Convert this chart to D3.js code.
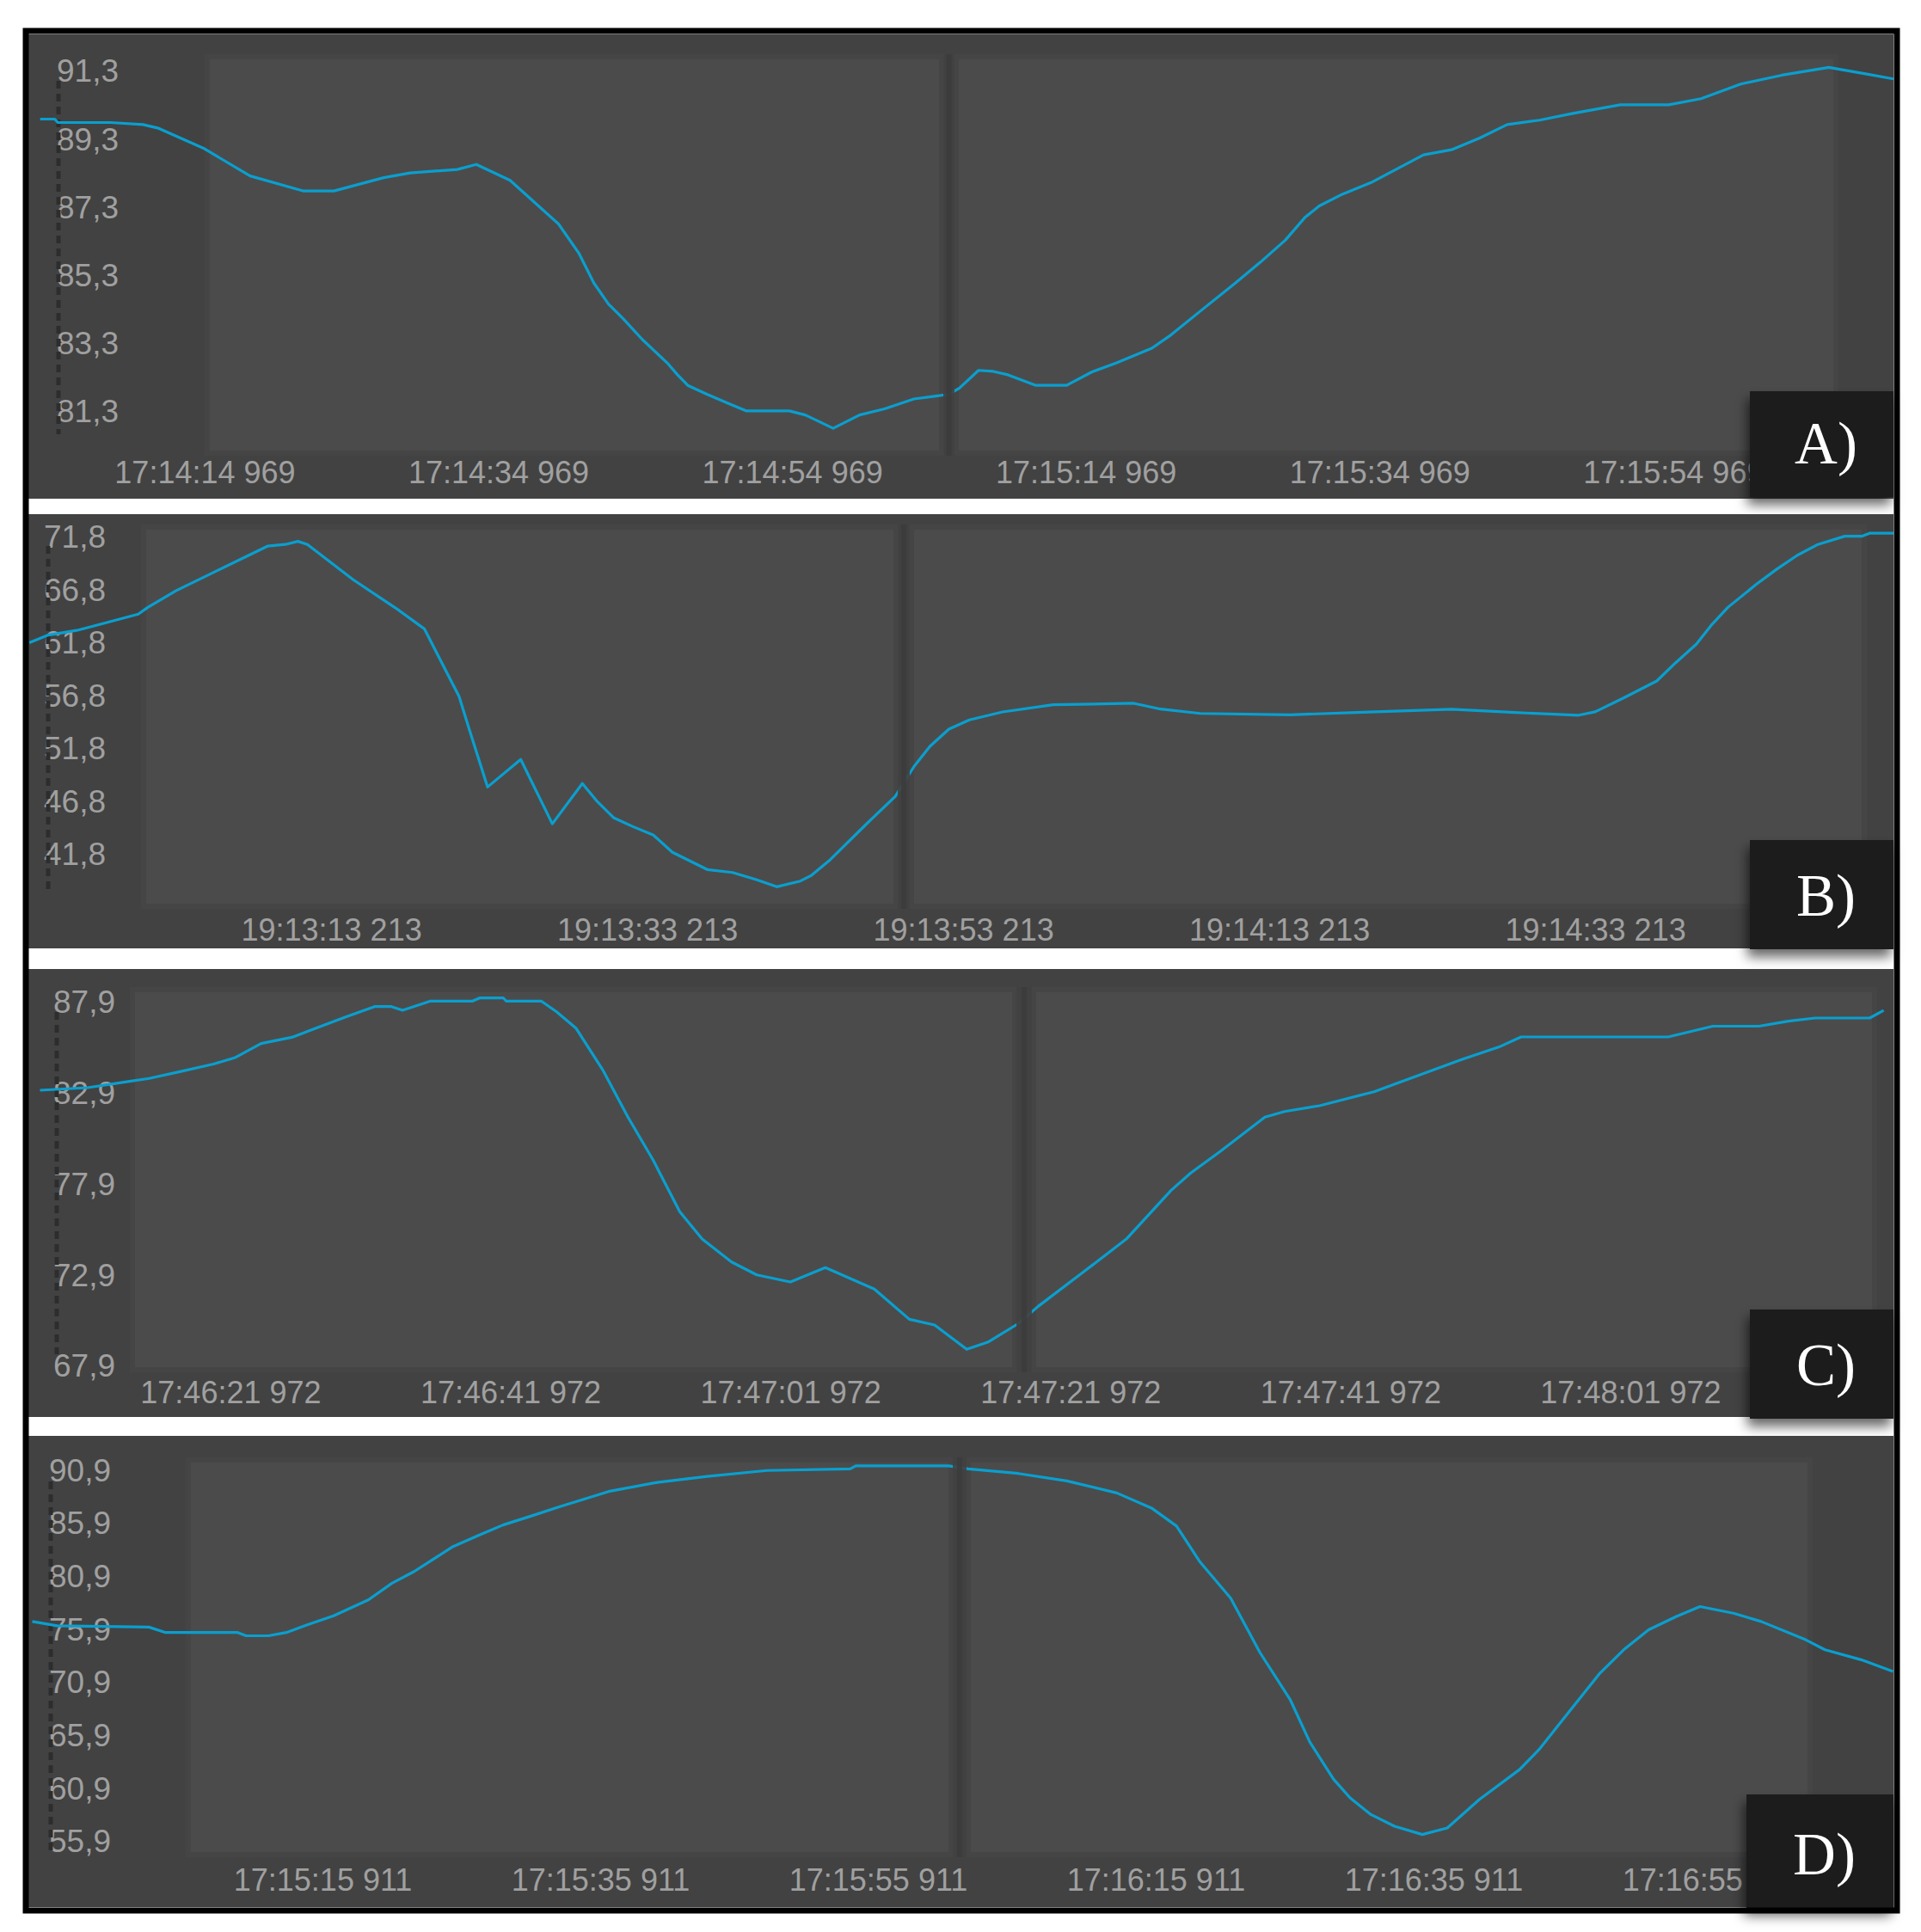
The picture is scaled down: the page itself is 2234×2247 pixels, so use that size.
<!DOCTYPE html>
<html>
<head>
<meta charset="utf-8">
<script src="https://cdn.jsdelivr.net/npm/d3@7"></script>
<style>
  body { margin: 0; background: #fff; }
  svg { display: block; }
  .axis text { font-family: "Liberation Sans", Arial, sans-serif; font-size: 36px; fill: #a0a0a0; }
  .axis.val text { font-size: 37px; }
  .tag { font-family: "Liberation Serif", "Times New Roman", serif; font-size: 69px; fill: #fff; }
</style>
</head>
<body>
<div id="chart"></div>
<script>
// A) 17:14:14.969
const aStart = "17:14:14.969";
const aSec = [-11.2, -10.2, -10.0, -6.4, -4.2, -3.2, -0.1, 3.1, 6.7, 8.8, 12.2, 14.0, 17.2, 18.5, 20.8, 24.1, 25.5, 26.5, 27.5, 28.5, 29.8, 31.5, 32.2, 32.9, 34.2, 35.6, 36.9, 39.8, 40.9, 42.8, 44.6, 46.3, 48.3, 49.7, 50.7, 51.4, 52.7, 53.7, 54.7, 56.6, 58.7, 60.4, 62.1, 64.5, 65.8, 67.8, 70.2, 71.9, 73.6, 74.9, 75.9, 77.5, 79.4, 83.0, 84.9, 86.8, 88.7, 90.9, 93.1, 96.4, 99.7, 101.9, 104.6, 107.4, 110.6, 111.5, 113.1, 115.0];
const aVal = [89.86, 89.86, 89.76, 89.76, 89.70, 89.60, 89.01, 88.19, 87.75, 87.75, 88.14, 88.28, 88.38, 88.53, 88.06, 86.78, 85.91, 85.05, 84.43, 84.00, 83.39, 82.70, 82.35, 82.04, 81.78, 81.52, 81.29, 81.29, 81.17, 80.78, 81.17, 81.35, 81.64, 81.72, 81.78, 81.96, 82.48, 82.45, 82.35, 82.04, 82.04, 82.43, 82.70, 83.13, 83.52, 84.22, 85.05, 85.66, 86.31, 86.96, 87.31, 87.66, 87.99, 88.81, 88.96, 89.30, 89.70, 89.83, 90.02, 90.28, 90.28, 90.46, 90.89, 91.15, 91.38, 91.31, 91.19, 91.04];
const aValTicks = [91.3, 89.3, 87.3, 85.3, 83.3, 81.3];
const aTimeTicks = [0, 20, 40, 60, 80, 100];

// B) 19:13:13.213
const bStart = "19:13:13.213";
const bSec = [-19.1, -17.9, -16.1, -14.6, -12.2, -11.6, -9.8, -7.4, -5.4, -4.0, -2.9, -2.1, -1.5, 1.4, 4.3, 5.9, 7.0, 8.1, 8.7, 9.9, 12.0, 14.0, 15.9, 16.8, 17.9, 19.1, 20.4, 21.6, 23.8, 25.4, 26.9, 28.2, 29.7, 30.4, 31.6, 33.8, 35.7, 36.9, 37.9, 39.1, 40.4, 42.5, 45.7, 50.8, 52.5, 55.0, 60.7, 64.9, 70.9, 74.9, 78.9, 80.0, 81.8, 83.9, 85.1, 86.4, 87.4, 88.4, 90.2, 91.5, 92.8, 94.1, 95.8, 96.9, 97.4, 98.9];
const bVal = [61.73, 62.45, 62.89, 63.47, 64.43, 65.07, 66.66, 68.40, 69.86, 70.87, 71.02, 71.31, 71.02, 67.68, 64.78, 63.04, 59.84, 56.65, 53.74, 48.08, 50.69, 44.60, 48.41, 46.78, 45.16, 44.34, 43.53, 41.91, 40.28, 40.00, 39.33, 38.65, 39.19, 39.73, 41.22, 44.47, 47.19, 50.04, 51.93, 53.56, 54.43, 55.18, 55.86, 56.00, 55.45, 55.04, 54.91, 55.13, 55.43, 55.13, 54.86, 55.19, 56.50, 58.11, 59.84, 61.58, 63.47, 65.07, 67.25, 68.69, 70.00, 71.02, 71.80, 71.80, 72.09, 72.09];
const bValTicks = [71.8, 66.8, 61.8, 56.8, 51.8, 46.8, 41.8];
const bTimeTicks = [0, 20, 40, 60, 80];

// C) 17:46:21.972
const cStart = "17:46:21.972";
const cSec = [-13.6, -10.2, -7.3, -5.8, -3.6, -1.2, 0.3, 2.2, 4.4, 6.0, 8.2, 10.3, 11.5, 12.3, 14.3, 17.3, 17.8, 19.5, 19.7, 22.2, 23.3, 24.7, 26.6, 28.4, 30.2, 32.1, 33.7, 35.8, 37.6, 40.0, 42.5, 46.0, 48.5, 50.3, 52.6, 54.1, 56.3, 57.7, 60.8, 64.0, 67.2, 68.6, 70.7, 73.9, 75.3, 77.8, 81.7, 82.9, 88.0, 90.6, 92.2, 102.7, 105.9, 109.2, 111.3, 113.2, 117.1, 118.1];
const cVal = [83.00, 83.14, 83.48, 83.65, 84.02, 84.44, 84.78, 85.57, 85.91, 86.38, 87.02, 87.60, 87.60, 87.39, 87.90, 87.90, 88.07, 88.07, 87.90, 87.90, 87.31, 86.40, 84.12, 81.52, 79.16, 76.32, 74.82, 73.56, 72.85, 72.46, 73.25, 72.07, 70.41, 70.10, 68.76, 69.15, 70.18, 71.12, 72.93, 74.82, 77.50, 78.45, 79.63, 81.52, 81.83, 82.15, 82.92, 83.26, 84.70, 85.37, 85.93, 85.93, 86.52, 86.52, 86.80, 86.97, 86.97, 87.39];
const cValTicks = [87.9, 82.9, 77.9, 72.9, 67.9];
const cTimeTicks = [0, 20, 40, 60, 80, 100];

// D) 17:15:15.911
const dStart = "17:15:15.911";
const dSec = [-20.9, -19.1, -12.5, -11.3, -6.1, -5.5, -3.9, -2.6, -1.1, 0.8, 3.3, 5.0, 6.6, 9.4, 11.3, 13.0, 14.9, 17.1, 20.6, 24.1, 27.7, 32.0, 38.0, 38.4, 45.1, 46.5, 50.1, 53.6, 57.2, 59.7, 61.5, 63.2, 65.4, 67.5, 69.7, 71.1, 72.8, 74.0, 75.5, 77.2, 79.2, 81.0, 83.3, 86.2, 87.6, 89.7, 92.0, 93.7, 95.5, 97.5, 99.2, 101.6, 103.6, 106.8, 108.2, 110.8, 113.1];
const dVal = [76.55, 76.14, 76.02, 75.51, 75.51, 75.20, 75.20, 75.51, 76.24, 77.08, 78.59, 80.16, 81.26, 83.62, 84.71, 85.65, 86.44, 87.38, 88.81, 89.66, 90.23, 90.79, 90.94, 91.22, 91.22, 90.94, 90.51, 89.81, 88.67, 87.25, 85.55, 82.15, 78.75, 73.64, 69.14, 65.18, 61.69, 59.91, 58.34, 57.24, 56.46, 57.08, 59.75, 62.58, 64.46, 67.92, 71.69, 73.88, 75.77, 77.02, 77.96, 77.33, 76.55, 74.83, 73.88, 72.94, 71.84];
const dValTicks = [90.9, 85.9, 80.9, 75.9, 70.9, 65.9, 60.9, 55.9];
const dTimeTicks = [0, 20, 40, 60, 80, 100];

const width = 2234;
const height = 2247;
const plotLeft = 33;
const plotRight = 2202;

// where each screenshot sits on the page
const panels = [
  { tag: "A)", start: aStart, sec: aSec, val: aVal, valTicks: aValTicks, timeTicks: aTimeTicks,
    top: 40, bottom: 580, xDomain: [-12.0, 115.0], yDomain: [81.3, 91.3], yRange: [477.5, 81.5],
    panes: [[241, 1095], [1112, 2135]], paneY: [66, 527], yLabelX: 138, dashX: 68, dashY: [94, 505],
    xLabelY: 562, box: [2035, 455, 2202, 578] },
  { tag: "B)", start: bStart, sec: bSec, val: bVal, valTicks: bValTicks, timeTicks: bTimeTicks,
    top: 598, bottom: 1103, xDomain: [-19.16, 98.88], yDomain: [41.8, 71.8], yRange: [992.6, 623.6],
    panes: [[167, 1042], [1060, 2168]], paneY: [613, 1054], yLabelX: 123, dashX: 56, dashY: [635, 1039],
    xLabelY: 1094, box: [2035, 977, 2202, 1104] },
  { tag: "C)", start: cStart, sec: cSec, val: cVal, valTicks: cValTicks, timeTicks: cTimeTicks,
    top: 1127, bottom: 1648, xDomain: [-14.43, 118.8], yDomain: [67.9, 87.9], yRange: [1587.5, 1164.3],
    panes: [[154, 1180], [1202, 2180]], paneY: [1151, 1593], yLabelX: 134, dashX: 66, dashY: [1177, 1575],
    xLabelY: 1632, box: [2035, 1523, 2202, 1650] },
  { tag: "D)", start: dStart, sec: dSec, val: dVal, valTicks: dValTicks, timeTicks: dTimeTicks,
    top: 1670, bottom: 2218, xDomain: [-21.18, 113.13], yDomain: [55.9, 90.9], yRange: [2140.5, 1708.9],
    panes: [[219, 1106], [1126, 2105]], paneY: [1698, 2157], yLabelX: 129, dashX: 59, dashY: [1723, 2155],
    xLabelY: 2199, box: [2031, 2087, 2202, 2219] }
];

const parseTime = d3.utcParse("%H:%M:%S.%L");
const formatTime = d3.utcFormat("%H:%M:%S %L");
const formatVal = (d) => d3.format(".1f")(d).replace(".", ",");

const svg = d3
  .select("#chart")
  .append("svg")
  .attr("width", width)
  .attr("height", height);

const defs = svg.append("defs");
defs
  .append("filter")
  .attr("id", "shadow")
  .attr("x", "-30%")
  .attr("y", "-30%")
  .attr("width", "160%")
  .attr("height", "170%")
  .append("feDropShadow")
  .attr("dx", -3)
  .attr("dy", 9)
  .attr("stdDeviation", 7)
  .attr("flood-color", "#000")
  .attr("flood-opacity", 0.6);

// white sheet behind the four screenshots
svg.append("rect")
  .attr("x", plotLeft).attr("y", 40)
  .attr("width", plotRight - plotLeft).attr("height", 2218 - 40)
  .attr("fill", "#fff");

function renderPanel(p, i) {
  const start = parseTime(p.start);
  const toDate = (s) => new Date(start.getTime() + s * 1000);
  const data = p.sec.map((s, k) => ({ t: toDate(s), v: p.val[k] }));

  const xScale = d3.scaleUtc().domain(p.xDomain.map(toDate)).range([plotLeft, plotRight]);
  const yScale = d3.scaleLinear().domain(p.yDomain).range(p.yRange);

  const g = svg.append("g");

  g.append("clipPath")
    .attr("id", "clip" + i)
    .append("rect")
    .attr("x", plotLeft).attr("y", p.top)
    .attr("width", plotRight - plotLeft).attr("height", p.bottom - p.top);

  // panel background
  g.append("rect")
    .attr("x", plotLeft).attr("y", p.top)
    .attr("width", plotRight - plotLeft).attr("height", p.bottom - p.top)
    .attr("fill", "#424242");

  // the two lighter panes
  g.selectAll(".pane")
    .data(p.panes)
    .enter()
    .append("rect")
    .attr("class", "pane")
    .attr("x", (d) => d[0]).attr("y", p.paneY[0])
    .attr("width", (d) => d[1] - d[0]).attr("height", p.paneY[1] - p.paneY[0])
    .attr("fill", "#4b4b4b")
    .attr("stroke", "#454545")
    .attr("stroke-width", 6);

  // value axis
  const yAxis = d3.axisLeft(yScale)
    .tickValues(p.valTicks)
    .tickFormat(formatVal)
    .tickSize(0)
    .tickPadding(0);
  const yG = g.append("g")
    .attr("class", "axis val")
    .attr("transform", `translate(${p.yLabelX},0)`)
    .call(yAxis)
    .attr("font-size", null)
    .attr("font-family", null);
  yG.select(".domain").remove();
  yG.selectAll("text").attr("x", 0).attr("dy", "0.36em");

  // time axis
  const xAxis = d3.axisBottom(xScale)
    .tickValues(p.timeTicks.map(toDate))
    .tickFormat(formatTime)
    .tickSize(0)
    .tickPadding(0);
  const xG = g.append("g")
    .attr("class", "axis")
    .attr("transform", `translate(0,${p.xLabelY})`)
    .call(xAxis)
    .attr("font-size", null)
    .attr("font-family", null);
  xG.select(".domain").remove();
  xG.selectAll("text").attr("y", 0).attr("dy", 0);

  // dashed value axis line, it eats into the first digit like in the screenshot
  g.append("line")
    .attr("x1", p.dashX).attr("x2", p.dashX)
    .attr("y1", p.dashY[0]).attr("y2", p.dashY[1])
    .attr("stroke", "#2d2d2d")
    .attr("stroke-width", 5)
    .attr("stroke-dasharray", "9 6");

  const line = d3.line()
    .x((d) => xScale(d.t))
    .y((d) => yScale(d.v));

  g.append("path")
    .datum(data)
    .attr("clip-path", `url(#clip${i})`)
    .attr("d", line)
    .attr("fill", "none")
    .attr("stroke", "#0a9fcf")
    .attr("stroke-width", 3.2)
    .attr("stroke-linejoin", "round");

  // cursor stripe between the panes
  const gap = p.panes[1][0] - p.panes[0][1];
  g.append("rect")
    .attr("x", p.panes[0][1] + 2).attr("y", p.paneY[0] - 3)
    .attr("width", gap - 4).attr("height", p.paneY[1] - p.paneY[0] + 6)
    .attr("fill", "#414141")
    .attr("opacity", 0.9);
  g.append("rect")
    .attr("x", p.panes[0][1] + gap / 2 - 3).attr("y", p.paneY[0] - 3)
    .attr("width", 6).attr("height", p.paneY[1] - p.paneY[0] + 6)
    .attr("fill", "#3b3b3b")
    .attr("opacity", 0.8);

  // letter box
  const [bx0, by0, bx1, by1] = p.box;
  g.append("rect")
    .attr("x", bx0).attr("y", by0)
    .attr("width", bx1 - bx0).attr("height", by1 - by0)
    .attr("fill", "#1f1f1f")
    .attr("filter", "url(#shadow)");
  g.append("text")
    .attr("class", "tag")
    .attr("x", (bx0 + bx1) / 2 + 5)
    .attr("y", by1 - 39)
    .attr("text-anchor", "middle")
    .text(p.tag);
}

panels.forEach(renderPanel);

// black frame round the whole figure
svg.append("rect")
  .attr("x", 30).attr("y", 36)
  .attr("width", 2206 - 30).attr("height", 2222 - 36)
  .attr("fill", "none")
  .attr("stroke", "#000")
  .attr("stroke-width", 7);
</script>
</body>
</html>
